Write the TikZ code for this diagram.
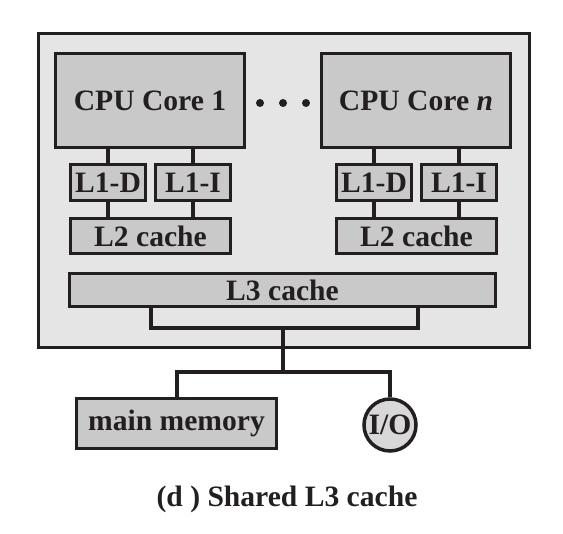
\documentclass[tikz,border=0pt]{standalone}
\usepackage{xcolor}
\usepackage{fontspec}
\setmainfont{Liberation Serif}
\usepackage{tikz}
\usetikzlibrary{positioning,shapes,calc}
\definecolor{chipfill}{RGB}{229, 229, 229}
\definecolor{unitfill}{RGB}{201, 201, 201}
\definecolor{iofill}{RGB}{216, 216, 216}
\definecolor{ink}{RGB}{35, 31, 32}

\begin{document}
\begin{tikzpicture}[x=1pt,y=-1pt,line width=3.5pt,draw=ink,
	font=\fontsize{29.6}{34}\selectfont\bfseries,text=ink,
	unit/.style={rectangle,draw=ink,fill=unitfill,inner sep=0pt},
	bus/.style={draw=ink,line width=4pt}]
	\useasboundingbox (0,0) rectangle (563,534);
	\node[rectangle,draw=ink,fill=chipfill,minimum width=491pt,minimum height=314pt] (chip) at(284,190.5) {};
	
	\node[unit,minimum width=189pt,minimum height=94pt] (core1) at(150,100.5) {CPU Core 1};
	\node[unit,minimum width=189pt,minimum height=94pt] (coren) at(416,100.5) {CPU Core \textit{n}};
	\foreach \x in {260,283,306}
		\fill[ink] (\x,103) circle (4pt);
	
	\node[unit,minimum width=75pt,minimum height=36pt] (l1d1) at(108,182.5) {L1-D};
	\node[unit,minimum width=75pt,minimum height=36pt] (l1i1) at(193,182.5) {L1-I};
	\node[unit,minimum width=75pt,minimum height=36pt] (l1dn) at(374,182.5) {L1-D};
	\node[unit,minimum width=75pt,minimum height=36pt] (l1in) at(459,182.5) {L1-I};
	\node[unit,minimum width=160pt,minimum height=35pt] (l2a) at(150.5,236) {L2 cache};
	\node[unit,minimum width=160pt,minimum height=35pt] (l2n) at(416.5,236) {L2 cache};
	\node[unit,minimum width=426pt,minimum height=33pt] (l3) at(282.5,290) {L3 cache};
	
	\node[unit,minimum width=200pt,minimum height=50pt] (mem) at(176.5,423.5) {main memory};
	\node[circle,draw=ink,fill=iofill,inner sep=0pt,minimum size=52pt] (io) at(390,425) {I/O};
	\node[] (caption) at(287,499) {(d ) Shared L3 cache};
	
	\foreach \l/\c in {l1d1/core1,l1i1/core1,l1dn/coren,l1in/coren}
		\draw[bus] (\l.north) -- (\l.north |- \c.south);
	\foreach \l/\c in {l1d1/l2a,l1i1/l2a,l1dn/l2n,l1in/l2n}
		\draw[bus] (\l.south) -- (\l.south |- \c.north);
	
	\coordinate (busl) at(151,328);
	\coordinate (busr) at(418,328);
	\coordinate (hub) at(283,372);
	\draw[bus,line join=miter] (l3.south -| busl) -- (busl) -- (busr) -- (l3.south -| busr);
	\draw[bus] (busl -| hub) -- (hub);
	\draw[bus,line join=miter] (mem.north) |- (hub) -| (io.north);
\end{tikzpicture}
\end{document}
